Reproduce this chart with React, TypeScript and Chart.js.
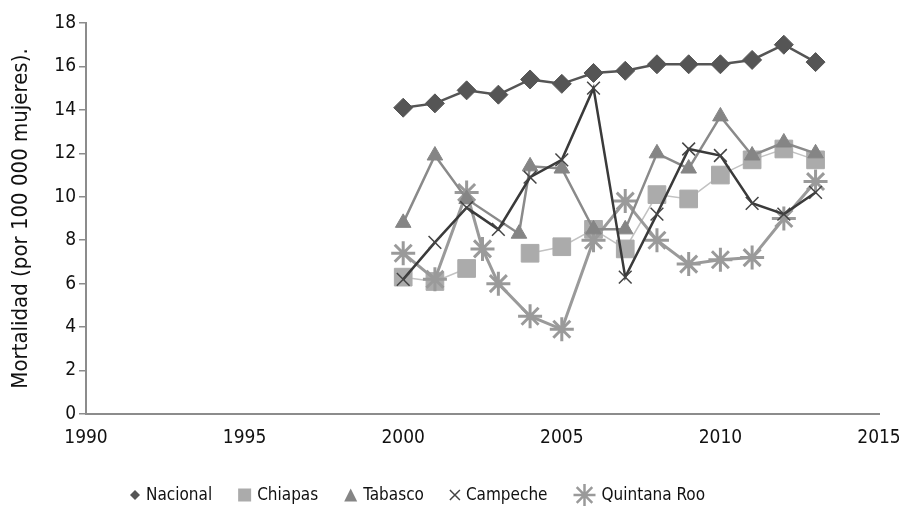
import { useEffect, useRef } from "react";
import { Chart, registerables } from "chart.js";

Chart.register(...registerables);

// Mortalidad por 100 000 mujeres, 2000–2013
const years = [2000, 2001, 2002, 2003, 2004, 2005, 2006, 2007, 2008, 2009, 2010, 2011, 2012, 2013];
const nacional = [14.1, 14.3, 14.9, 14.7, 15.4, 15.2, 15.7, 15.8, 16.1, 16.1, 16.1, 16.3, 17.0, 16.2];
const chiapas = [6.3, 6.1, 6.7, null, 7.4, 7.7, 8.5, 7.6, 10.1, 9.9, 11.0, 11.7, 12.2, 11.7];
const tabascoYears = [2000, 2001, 2002, 2003.65, 2004, 2005, 2006, 2007, 2008, 2009, 2010, 2011, 2012, 2013];
const tabasco = [8.8, 11.9, 9.9, 8.3, 11.4, 11.3, 8.5, 8.5, 12.0, 11.3, 13.7, 11.9, 12.5, 12.0];
const campeche = [6.2, 7.9, 9.5, 8.5, 10.9, 11.7, 15.0, 6.3, 9.2, 12.2, 11.9, 9.7, 9.2, 10.2];
const quintanaRooYears = [2000, 2001, 2002, 2002.5, 2003, 2004, 2005, 2006, 2007, 2008, 2009, 2010, 2011, 2012, 2013];
const quintanaRoo = [7.4, 6.2, 10.2, 7.6, 6.0, 4.5, 3.9, 8.0, 9.8, 8.0, 6.9, 7.1, 7.2, 9.0, 10.7];

const xTicks = [1990, 1995, 2000, 2005, 2010, 2015];
const yTicks = [0, 2, 4, 6, 8, 10, 12, 14, 16, 18];

const FONT = '"Liberation Sans Narrow", "DejaVu Sans Condensed", "Roboto Condensed", sans-serif';
const AXIS_GRAY = "#8c8c8c";

const toPoints = (xs: number[], ys: (number | null)[]) => xs.map((x, i) => ({ x, y: ys[i] }));

type MarkerStyle = "diamond" | "square" | "triangle" | "x" | "star";

function drawMarker(ctx: CanvasRenderingContext2D, style: MarkerStyle, cx: number, cy: number, r: number, color: string) {
  ctx.save();
  ctx.fillStyle = color;
  ctx.strokeStyle = color;
  ctx.beginPath();
  if (style === "diamond") {
    ctx.moveTo(cx, cy - r);
    ctx.lineTo(cx + r, cy);
    ctx.lineTo(cx, cy + r);
    ctx.lineTo(cx - r, cy);
    ctx.closePath();
    ctx.fill();
  } else if (style === "square") {
    ctx.rect(cx - r, cy - r, 2 * r, 2 * r);
    ctx.fill();
  } else if (style === "triangle") {
    ctx.moveTo(cx, cy - r);
    ctx.lineTo(cx + r, cy + r);
    ctx.lineTo(cx - r, cy + r);
    ctx.closePath();
    ctx.fill();
  } else if (style === "x") {
    ctx.lineWidth = 1.5;
    ctx.moveTo(cx - r, cy - r);
    ctx.lineTo(cx + r, cy + r);
    ctx.moveTo(cx + r, cy - r);
    ctx.lineTo(cx - r, cy + r);
    ctx.stroke();
  } else {
    ctx.lineWidth = 2.5;
    for (let k = 0; k < 4; k++) {
      const a = (k * Math.PI) / 4;
      ctx.moveTo(cx - Math.cos(a) * r, cy - Math.sin(a) * r);
      ctx.lineTo(cx + Math.cos(a) * r, cy + Math.sin(a) * r);
    }
    ctx.stroke();
  }
  ctx.restore();
}

const legendItems: { style: MarkerStyle; r: number; color: string }[] = [
  { style: "diamond", r: 5, color: "#555555" },
  { style: "square", r: 6.5, color: "#ababab" },
  { style: "triangle", r: 6.5, color: "#858585" },
  { style: "x", r: 5, color: "#444444" },
  { style: "star", r: 11, color: "#9a9a9a" },
];

const legendRow = {
  id: "legendRow",
  afterDraw(chart: Chart) {
    const ctx = chart.ctx;
    ctx.save();
    ctx.font = `17px ${FONT}`;
    ctx.fillStyle = "#111";
    ctx.textBaseline = "middle";
    ctx.textAlign = "left";
    const y = 487;
    let x = 122;
    chart.data.datasets.forEach((ds, i) => {
      const item = legendItems[i];
      drawMarker(ctx, item.style, x + item.r, y, item.r, item.color);
      x += 2 * item.r + 6;
      const label = String(ds.label);
      ctx.fillText(label, x, y + 1);
      x += ctx.measureText(label).width + 26;
    });
    ctx.restore();
  },
};

export default function App() {
  const canvasRef = useRef<HTMLCanvasElement | null>(null);

  useEffect(() => {
    const canvas = canvasRef.current;
    if (!canvas) return;
    const chart = new Chart(canvas, {
      type: "line",
      data: {
        datasets: [
          {
            label: "Nacional",
            data: toPoints(years, nacional),
            borderColor: "#555555",
            backgroundColor: "#555555",
            borderWidth: 2.5,
            pointStyle: "rectRot",
            pointRadius: 9.5,
            pointBorderWidth: 1,
            pointBackgroundColor: "#555555",
            pointBorderColor: "#555555",
            order: 0,
          },
          {
            label: "Chiapas",
            data: toPoints(years, chiapas),
            borderColor: "#c2c2c2",
            backgroundColor: "#ababab",
            borderWidth: 1.5,
            pointStyle: "rect",
            pointRadius: 12.5,
            pointBorderWidth: 1,
            pointBackgroundColor: "#ababab",
            pointBorderColor: "#ababab",
            spanGaps: false,
            order: 4,
          },
          {
            label: "Tabasco",
            data: toPoints(tabascoYears, tabasco),
            borderColor: "#8a8a8a",
            backgroundColor: "#858585",
            borderWidth: 2.5,
            pointStyle: "triangle",
            pointRadius: 9,
            pointBorderWidth: 1,
            pointBackgroundColor: "#858585",
            pointBorderColor: "#858585",
            order: 2,
          },
          {
            label: "Campeche",
            data: toPoints(years, campeche),
            borderColor: "#3a3a3a",
            backgroundColor: "#3a3a3a",
            borderWidth: 2.5,
            pointStyle: "crossRot",
            pointRadius: 9,
            pointBorderWidth: 1.5,
            pointBorderColor: "#444444",
            order: 1,
          },
          {
            label: "Quintana Roo",
            data: toPoints(quintanaRooYears, quintanaRoo),
            borderColor: "#9a9a9a",
            backgroundColor: "#9a9a9a",
            borderWidth: 3,
            pointStyle: "star",
            pointRadius: 12,
            pointBorderWidth: 3,
            pointBorderColor: "#9a9a9a",
            order: 3,
          },
        ],
      },
      options: {
        responsive: false,
        animation: false,
        events: [],
        layout: { padding: { top: 10, right: 20, bottom: 0, left: 0 } },
        plugins: {
          legend: { display: false },
          tooltip: { enabled: false },
        },
        scales: {
          x: {
            type: "linear",
            min: 1990,
            max: 2015,
            afterBuildTicks: (scale: any) => {
              scale.ticks = xTicks.map((v) => ({ value: v }));
            },
            afterFit: (scale: any) => {
              scale.height = 94;
              scale.paddingLeft = 0;
              scale.paddingRight = 0;
            },
            border: { color: AXIS_GRAY, width: 2 },
            grid: { drawOnChartArea: false, drawTicks: true, tickLength: 6, color: "rgba(0,0,0,0)" },
            ticks: {
              color: "#111",
              font: { family: FONT, size: 19 },
              padding: 7,
              maxRotation: 0,
              callback: (v: any) => String(v),
            },
          },
          y: {
            type: "linear",
            min: 0,
            max: 18,
            afterBuildTicks: (scale: any) => {
              scale.ticks = yTicks.map((v) => ({ value: v }));
            },
            afterFit: (scale: any) => {
              scale.width = 78;
              scale.paddingTop = 0;
              scale.paddingBottom = 0;
            },
            border: { color: AXIS_GRAY, width: 2 },
            grid: { drawOnChartArea: false, drawTicks: true, tickLength: 7, color: AXIS_GRAY, lineWidth: 1.5 },
            ticks: { color: "#111", font: { family: FONT, size: 19 }, padding: 3, callback: (v: any) => String(v) },
            title: {
              display: true,
              text: "Mortalidad (por 100 000 mujeres).",
              color: "#111",
              font: { family: FONT, size: 22 },
              padding: { top: 0, bottom: 0 },
            },
          },
        },
      },
      plugins: [legendRow],
    });
    return () => chart.destroy();
  }, []);

  return (
    <div style={{ width: 891, height: 500 }}>
      <canvas ref={canvasRef} width={891} height={500} />
    </div>
  );
}
